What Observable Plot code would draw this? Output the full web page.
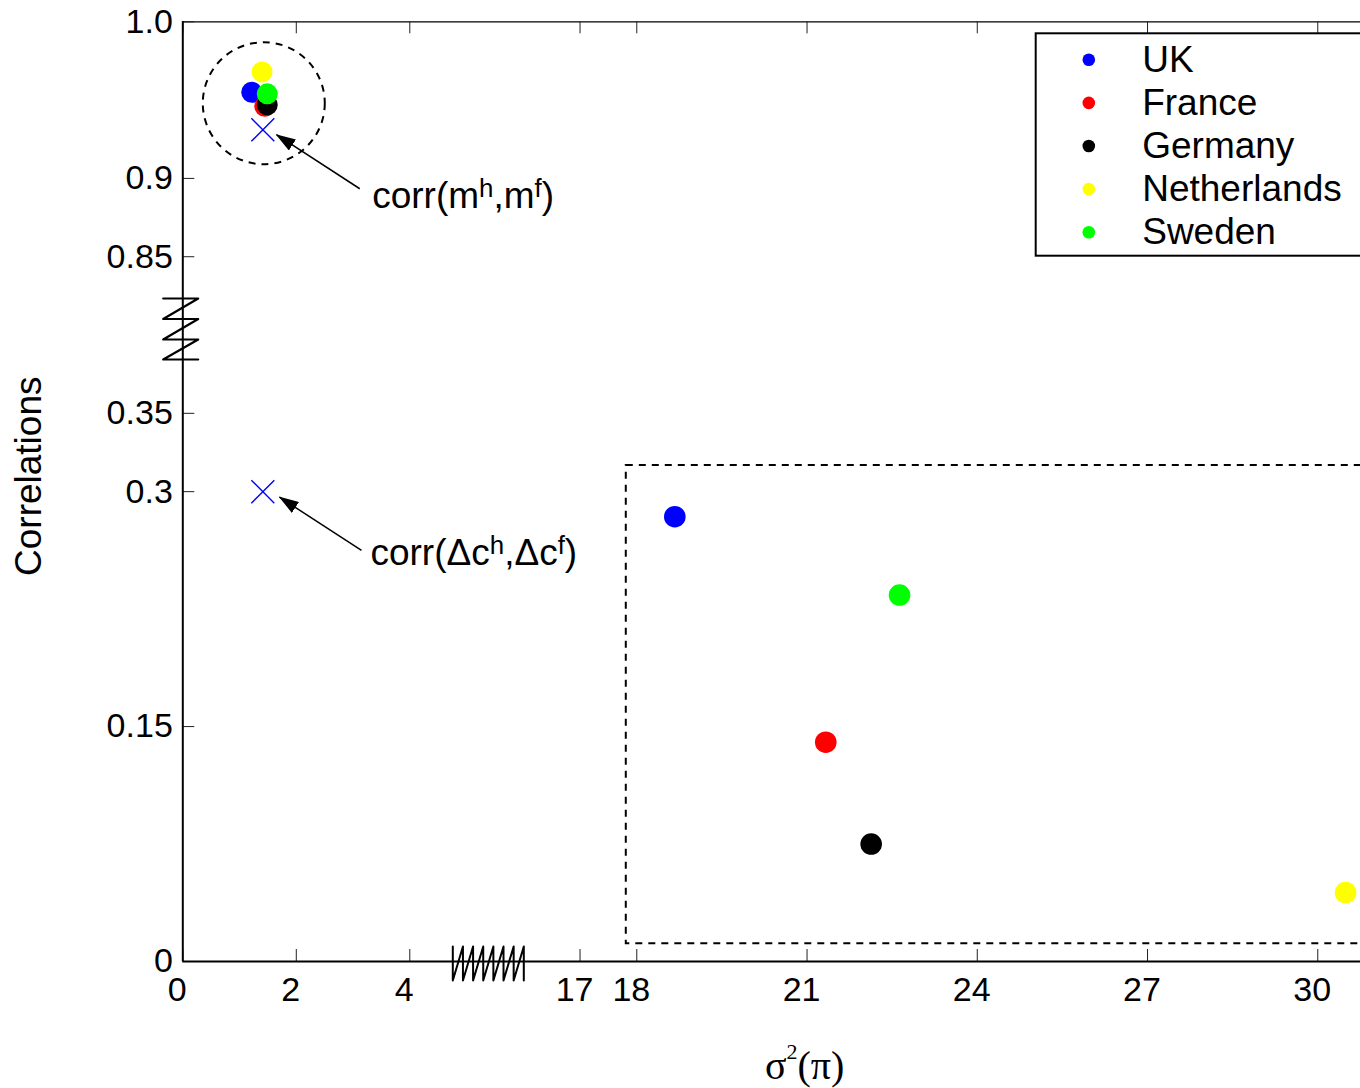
<!DOCTYPE html>
<html><head><meta charset="utf-8">
<script src="https://cdn.jsdelivr.net/npm/d3@7"></script>
<script src="https://cdn.jsdelivr.net/npm/@observablehq/plot@0.6"></script>
<style>html,body{margin:0;padding:0;background:#fff;overflow:hidden}</style>
</head><body><div id="chart"></div>
<script>
// ---------- data ----------
const countries = ["UK", "France", "Germany", "Netherlands", "Sweden"];
const countryColors = ["#0000ff", "#ff0000", "#000000", "#ffff00", "#00ff00"];
const clusterX = [1.215, 1.445, 1.488, 1.397, 1.488];
const clusterY = [0.955, 0.946, 0.947, 0.968, 0.954];
const lowerX = [18.67, 21.33, 22.13, 30.49, 22.63];
const lowerY = [0.284, 0.140, 0.075, 0.044, 0.234];
const crossX = [1.41, 1.41];
const crossY = [0.931, 0.300];
const annotationLabels = ["corr(m^h,m^f)", "corr(Δc^h,Δc^f)"];
const annotationTextX = [3.337, 3.307];
const annotationTextY = [0.8889, 0.2605];
const arrowFromX = [3.119, 3.149];
const arrowFromY = [0.8934, 0.2625];
const arrowToX = [1.651, 1.704];
const arrowToY = [0.9279, 0.2965];
const xTickValues = [0, 2, 4, 17, 18, 21, 24, 27, 30];
const xTickLabels = ["0", "2", "4", "17", "18", "21", "24", "27", "30"];
const yTickValues = [0, 0.15, 0.3, 0.35, 0.85, 0.9, 1.0];
const yTickLabels = ["0", "0.15", "0.3", "0.35", "0.85", "0.9", "1.0"];
const xLabel = "σ^2(π)";
const yLabel = "Correlations";
const highlightCircle = {x: 1.427, y: 0.948};
const highlightBox = {x1: 17.815, x2: 31.5, y1: 0.0113, y2: 0.3167};

// ---------- broken-axis transforms ----------
const X_GAP = 10, Y_GAP = 0.4;
const tx = v => (v >= 10 ? v - X_GAP : v);
const ty = v => (v >= 0.6 ? v - Y_GAP : v);

// layout
const W = 1360, H = 1088;
const mL = 182.3, mT = 21.3, mB = 127;
const xMax = 20.753, yMax = 0.6;
const pxX = (W - mL) / xMax;           // px per x unit
const pxY = (H - mB - mT) / yMax;      // px per y unit
const dX = px => px / pxX, dY = px => px / pxY;

const xTickPos = xTickValues.map(tx);
const yTickPos = yTickValues.map(ty);
const xLab = new Map(xTickPos.map((p, i) => [p, xTickLabels[i]]));
const yLab = new Map(yTickPos.map((p, i) => [p, yTickLabels[i]]));

const cluster = countries.map((c, i) => ({c, color: countryColors[i], x: tx(clusterX[i]), y: ty(clusterY[i])}));
const lower = countries.map((c, i) => ({c, color: countryColors[i], x: tx(lowerX[i]), y: ty(lowerY[i])}));
const crosses = crossX.map((x, i) => ({x: tx(x), y: ty(crossY[i])}));
const annots = annotationLabels.map((t, i) => ({t, x: tx(annotationTextX[i]), y: ty(annotationTextY[i])}));
const arrows = arrowFromX.map((x, i) => ({x1: tx(x), y1: ty(arrowFromY[i]), x2: tx(arrowToX[i]), y2: ty(arrowToY[i])}));

// legend layout (pixel offsets converted to data units)
const legTop = yMax - dY(33.3 - mT), legBot = yMax - dY(255.7 - mT);
const legX1 = dX(1035.7 - mL);
const legend = countries.map((c, i) => ({c, color: countryColors[i],
  y: yMax - dY(59.3 - mT + i * 43.1), xd: dX(1088.3 - mL), xt: dX(1141.7 - mL)}));

// axis-break decorations
const yBreak = [];
{
  const L = dX(-19.6), R = dX(15.4);
  const ys = [298, 318.5, 339, 359].map(p => yMax - dY(p - mT));
  ys.forEach(y => { yBreak.push({x: L, y}); yBreak.push({x: R, y}); });
}
const xBreak = [];
{
  const a = dX(452.3 - mL), b = dX(523.3 - mL), n = 7;
  const top = dY(15), bot = -dY(19);
  for (let k = 0; k <= n; k++) {
    const x = a + (b - a) * k / n;
    xBreak.push({x, y: top}); xBreak.push({x, y: bot});
  }
}

const tickLenX = dY(12), tickLenY = dX(12);
const crossSymbol = {draw(ctx) { const s = 11.5; ctx.moveTo(-s, -s); ctx.lineTo(s, s); ctx.moveTo(-s, s); ctx.lineTo(s, -s); }};

const svg = Plot.plot({
  width: W, height: H,
  marginLeft: mL, marginRight: 0, marginTop: mT, marginBottom: mB,
  x: {domain: [0, xMax]},
  y: {domain: [0, yMax]},
  color: {type: "identity"},
  style: {fontFamily: "'Liberation Sans', Arial, Helvetica, sans-serif", background: "white", color: "black", overflow: "hidden"},
  marks: [
    // frame pieces
    Plot.ruleY([yMax], {stroke: "black", strokeWidth: 1.3}),
    Plot.ruleX(xTickPos, {y1: 0, y2: tickLenX, stroke: "#222", strokeWidth: 1}),
    Plot.ruleX(xTickPos, {y1: yMax, y2: yMax - tickLenX, stroke: "#222", strokeWidth: 1}),
    Plot.ruleY(yTickPos, {x1: 0, x2: tickLenY, stroke: "#222", strokeWidth: 1}),
    Plot.ruleX([0], {stroke: "black", strokeWidth: 2}),
    Plot.ruleY([0], {stroke: "black", strokeWidth: 2}),
    Plot.line(yBreak, {x: "x", y: "y", stroke: "black", strokeWidth: 2.2, curve: "linear"}),
    Plot.line(xBreak, {x: "x", y: "y", stroke: "black", strokeWidth: 2, curve: "linear"}),
    Plot.axisX(xTickPos, {tickSize: 0, tickPadding: 15, fontSize: 34, label: null, dx: -5.5, tickFormat: d => xLab.get(d)}),
    Plot.axisY(yTickPos, {tickSize: 0, tickPadding: 10, fontSize: 34, label: null, tickFormat: d => yLab.get(d)}),
    // highlight shapes
    Plot.rect([highlightBox], {x1: d => tx(d.x1), x2: d => tx(d.x2), y1: d => ty(d.y1), y2: d => ty(d.y2), fill: "none", stroke: "black", strokeWidth: 2, strokeDasharray: "7,6"}),
    Plot.dot([highlightCircle], {x: d => tx(d.x), y: d => ty(d.y), r: 61, fill: "none", stroke: "black", strokeWidth: 2, strokeDasharray: "7,6"}),
    // data
    Plot.dot(cluster, {x: "x", y: "y", r: 10.5, fill: "color"}),
    Plot.dot(lower, {x: "x", y: "y", r: 10.8, fill: "color"}),
    Plot.dot(crosses, {x: "x", y: "y", symbol: crossSymbol, r: 8, stroke: "#0000ff", strokeWidth: 1.4, fill: "none"}),
    // annotations
    Plot.link(arrows, {x1: "x1", y1: "y1", x2: "x2", y2: "y2", stroke: "black", strokeWidth: 1.5}),
    Plot.text(annots, {x: "x", y: "y", text: "t", textAnchor: "start", lineAnchor: "middle", fontSize: 37}),
    // legend
    Plot.rect([0], {x1: legX1, x2: xMax + 1, y1: legBot, y2: legTop, fill: "white", stroke: "black", strokeWidth: 2}),
    Plot.dot(legend, {x: "xd", y: "y", r: 6.3, fill: "color"}),
    Plot.text(legend, {x: "xt", y: "y", text: "c", textAnchor: "start", lineAnchor: "middle", fontSize: 37}),
    // axis labels
    Plot.text([yLabel], {frameAnchor: "left", text: d => d, rotate: -90, dx: -153.6, dy: -15.4, fontSize: 37, textAnchor: "middle", lineAnchor: "middle"}),
    Plot.text([xLabel], {frameAnchor: "bottom", text: d => d, dx: 33, dy: 105, fontSize: 40, textAnchor: "middle", lineAnchor: "middle", fontFamily: "'Liberation Serif', 'Times New Roman', serif"})
  ]
});

// ---------- post-processing: arrowheads & superscripts ----------
const NS = "http://www.w3.org/2000/svg";
const defs = document.createElementNS(NS, "defs");
defs.innerHTML = '<marker id="ahead" viewBox="0 0 20 13" refX="19" refY="6.5" markerWidth="20" markerHeight="13" markerUnits="userSpaceOnUse" orient="auto"><path d="M0,0L20,6.5L0,13z" fill="black"/></marker>';
svg.insertBefore(defs, svg.firstChild);
svg.querySelectorAll('g[aria-label="link"] path').forEach(p => p.setAttribute("marker-end", "url(#ahead)"));

svg.querySelectorAll("text").forEach(el => {
  const s = el.textContent;
  if (!s.includes("^")) return;
  const fs = parseFloat(el.getAttribute("font-size") || el.parentNode.getAttribute("font-size") || 37);
  const isSerif = s.startsWith("σ");
  const scale = isSerif ? 0.55 : 0.7, shift = isSerif ? fs * 0.5 : fs * 0.3;
  const parts = s.split(/\^(.)/);
  el.textContent = "";
  let raised = false;
  parts.forEach((p, i) => {
    if (!p) return;
    const t = document.createElementNS(NS, "tspan");
    if (i % 2 === 1) { t.setAttribute("font-size", fs * scale); t.setAttribute("dy", -shift); raised = true; }
    else if (raised) { t.setAttribute("dy", shift); raised = false; }
    t.textContent = p;
    el.appendChild(t);
  });
});

document.getElementById("chart").appendChild(svg);
</script>
</body></html>
